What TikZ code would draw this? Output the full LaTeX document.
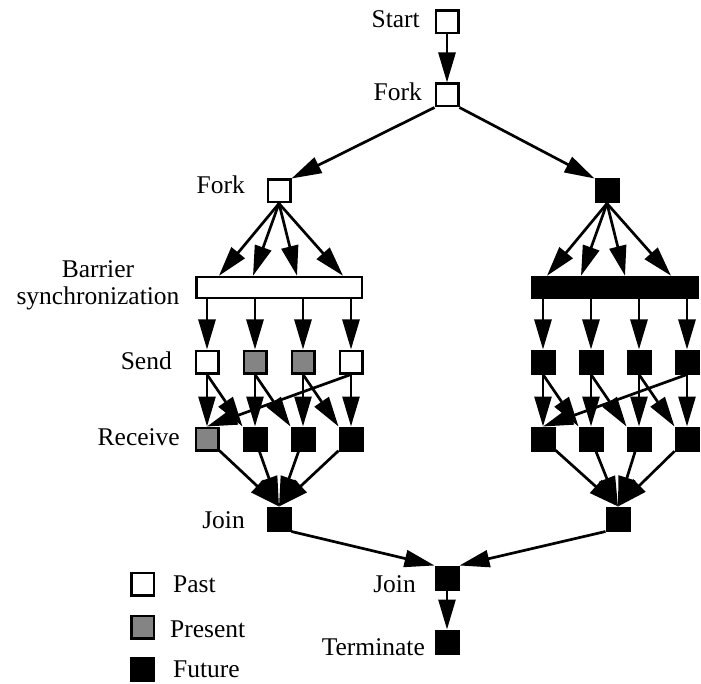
\documentclass[tikz,border=0pt]{standalone}
\usepackage{fontspec}
\setmainfont{Liberation Serif}
\usetikzlibrary{arrows.meta,calc}
\definecolor{presentgray}{RGB}{132,132,132}
\begin{document}
\begin{tikzpicture}[x=1pt,y=-1pt,
  box/.style={draw=black,line width=2.5pt,minimum size=22.5pt,inner sep=0pt,fill=#1},
  box/.default=black,
  barrier/.style={draw=black,line width=2.5pt,minimum width=165.5pt,minimum height=21pt,inner sep=0pt,fill=#1},
  barrier/.default=black,
  flow/.style={line width=2.7pt,-{Triangle[length=30pt,width=17pt]}},
  lbl/.style={inner sep=0pt,font=\fontsize{25.5}{27}\selectfont}]
\useasboundingbox (0,0) rectangle (701,684);

% top of the graph
\node[box=white] (start) at (447,22) {};
\node[box=white] (fork) at (447,95) {};
\node[box=white] (lfork) at (279,191) {};
\node[box] (rfork) at (607,191) {};

% barriers
\node[barrier=white] (lbar) at (279,287.5) {};
\node[barrier] (rbar) at (615,287.5) {};

% send and receive rows, left branch
\node[box=white] (ls1) at (207,362) {};
\node[box=presentgray] (ls2) at (255,362) {};
\node[box=presentgray] (ls3) at (303,362) {};
\node[box=white] (ls4) at (351,362) {};
\node[box=presentgray] (lr1) at (207,439) {};
\node[box] (lr2) at (255,439) {};
\node[box] (lr3) at (303,439) {};
\node[box] (lr4) at (351,439) {};

% send and receive rows, right branch
\foreach \i/\x in {1/543,2/591,3/639,4/687}{
  \node[box] (rs\i) at (\x,362) {};
  \node[box] (rr\i) at (\x,439) {};
}

% joins
\node[box] (ljoin) at (279,519) {};
\node[box] (rjoin) at (618,519) {};
\node[box] (fjoin) at (447,578) {};
\node[box] (term) at (447,642) {};

% legend
\node[box=white] (kpast) at (142.5,584) {};
\node[box=presentgray] (kpres) at (142.5,627) {};
\node[box] (kfut) at (142.5,669) {};

% labels
\node[lbl,anchor=base east] (tstart) at (420,28) {Start};
\node[lbl,anchor=base east] (tfork) at (422,101) {Fork};
\node[lbl,anchor=base east] (tlfork) at (245,194) {Fork};
\node[lbl,anchor=base] (tbar1) at (98,278) {Barrier};
\node[lbl,anchor=base] (tbar2) at (98,305) {synchronization};
\node[lbl,anchor=base east] (tsend) at (172,369) {Send};
\node[lbl,anchor=base east] (trecv) at (180,445) {Receive};
\node[lbl,anchor=base east] (tljoin) at (245,528) {Join};
\node[lbl,anchor=base east] (tfjoin) at (416,592) {Join};
\node[lbl,anchor=base east] (tterm) at (425,655) {Terminate};
\node[lbl,anchor=base west] (tpast) at (173,592) {Past};
\node[lbl,anchor=base west] (tpres) at (170,637) {Present};
\node[lbl,anchor=base west] (tfut) at (173,677) {Future};

% connectors
\draw[flow] (start) -- (fork);
\draw[flow] (fork.south west) -- (lfork.north east);
\draw[flow] (fork.south east) -- (rfork.north west);

\foreach \f/\b in {lfork/lbar,rfork/rbar}{
  \foreach \dx in {-60,-26,18,64}{
    \draw[flow] (\f.south) -- ($(\f.south |- \b.north)+(\dx,0)$);
  }
}

\foreach \s in {l,r}{
  \foreach \i in {1,2,3,4}{
    \draw[flow] (\s bar.south -| \s s\i) -- (\s s\i);
    \draw[flow] (\s s\i) -- (\s r\i);
  }
  \foreach \i/\j in {1/2,2/3,3/4}{
    \draw[flow] (\s s\i.south) -- (\s r\j.north west);
  }
  \draw[flow] (\s s4.south) -- (\s r1.north);
  \foreach \i in {1,2,3,4}{
    \draw[flow] (\s r\i) -- (\s join.north);
  }
}

\draw[flow] (ljoin.south east) -- (fjoin.north west);
\draw[flow] (rjoin.south west) -- (fjoin.north east);
\draw[flow] (fjoin) -- (term);
\end{tikzpicture}
\end{document}
